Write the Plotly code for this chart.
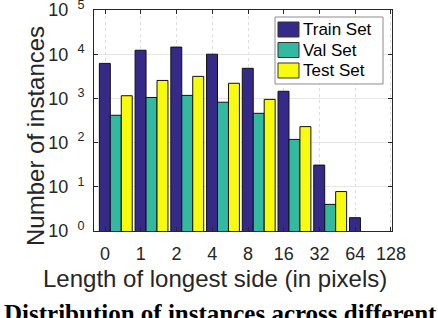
import plotly.graph_objects as go

# ---- data ----
bin_labels = ["0", "1", "2", "4", "8", "16", "32", "64", "128"]
bin_index = [0, 1, 2, 3, 4, 5, 6, 7]
series_names = ["Train Set", "Val Set", "Test Set"]
train_counts = [6200, 12300, 14500, 10000, 4800, 1450, 31, 2]
val_counts = [415, 1050, 1170, 820, 460, 118, 4, None]
test_counts = [1150, 2550, 3150, 2200, 950, 230, 7.8, None]
y_tick_exponents = [0, 1, 2, 3, 4, 5]

# ---- style ----
COLORS = ["#352a87", "#33b8a1", "#f9fb0e"]
TXT = "#262626"
FONT = "Liberation Sans, Arial, sans-serif"

bin_offset = 0.3  # bars sit to the right of each tick in the original
xpos = [i + bin_offset for i in bin_index]

fig = go.Figure()
for name, vals, col in zip(series_names, [train_counts, val_counts, test_counts], COLORS):
    fig.add_trace(go.Bar(
        x=xpos, y=vals, name=name, showlegend=False,
        marker=dict(color=col, line=dict(color="#111111", width=1)),
    ))

fig.update_layout(
    width=438, height=318,
    margin=dict(l=94, r=46, t=10, b=87),
    barmode="group", bargap=0.08, bargroupgap=0,
    plot_bgcolor="white", paper_bgcolor="white",
    font=dict(family=FONT, color=TXT, size=18),
    showlegend=False,
)

fig.update_xaxes(
    automargin=False,
    range=[-0.31, 8.03],
    tickmode="array",
    tickvals=list(range(len(bin_labels))),
    ticktext=bin_labels,
    tickfont=dict(size=18, color=TXT),
    ticks="inside", ticklen=4, tickcolor=TXT,
    ticklabelstandoff=6, ticklabeloverflow="allow",
    showline=True, linecolor=TXT, linewidth=1, mirror="ticks",
    showgrid=True, gridcolor="#dcdcdc", griddash="dot", gridwidth=1,
    zeroline=False,
)

fig.update_yaxes(
    automargin=False,
    type="log", range=[-0.0005, 5.0005],
    tickmode="array",
    tickvals=[10 ** e for e in y_tick_exponents],
    ticktext=["10\u2002<sup>%d</sup>" % e for e in y_tick_exponents],
    tickfont=dict(size=18, color=TXT),
    ticks="inside", ticklen=4, tickcolor=TXT,
    ticklabelstandoff=5, ticklabeloverflow="allow",
    showline=True, linecolor=TXT, linewidth=1, mirror="ticks",
    showgrid=True, gridcolor="#e6e6e6", gridwidth=1,
    zeroline=False,
)

# axis titles (placed as in the original, not centred on the axes)
fig.add_annotation(text="Number of instances", textangle=-90,
                   xref="paper", yref="paper", x=-0.1946, y=0.43,
                   xanchor="center", yanchor="middle", showarrow=False,
                   font=dict(family=FONT, size=24, color=TXT))
fig.add_annotation(text="Length of longest side (in pixels)",
                   xref="paper", yref="paper", x=0.406, y=-0.2127,
                   xanchor="center", yanchor="middle", showarrow=False,
                   font=dict(family=FONT, size=24, color=TXT))

# legend box drawn by hand (MATLAB-style large swatches)
fig.add_shape(type="rect", xref="paper", yref="paper",
              x0=0.6074, x1=0.9698, y0=0.6652, y1=0.9683,
              line=dict(color="#8c8c8c", width=1), fillcolor="white", layer="above")
sw_top = [0.9457, 0.8529, 0.7602]
sw_h = 0.0679
txt_y = [0.9118, 0.8190, 0.7262]
for name, col, yt, ty in zip(series_names, COLORS, sw_top, txt_y):
    fig.add_shape(type="rect", xref="paper", yref="paper",
                  x0=0.6174, x1=0.6879, y0=yt - sw_h, y1=yt,
                  line=dict(color="#333333", width=1), fillcolor=col, layer="above")
    fig.add_annotation(text=name, xref="paper", yref="paper", x=0.695, y=ty,
                       xanchor="left", yanchor="middle", showarrow=False,
                       font=dict(family=FONT, size=17, color="#000000"))

fig.add_annotation(
    text="<b>Distribution of instances across different</b>",
    xref="paper", yref="paper", x=-0.309, y=-0.305,
    xanchor="left", yanchor="top", showarrow=False,
    font=dict(family="Liberation Serif, Times New Roman, serif", size=25, color="#000000"),
)

fig.write_html("out.html", config={"displayModeBar": False},
               post_script="document.body.style.margin='0';")
